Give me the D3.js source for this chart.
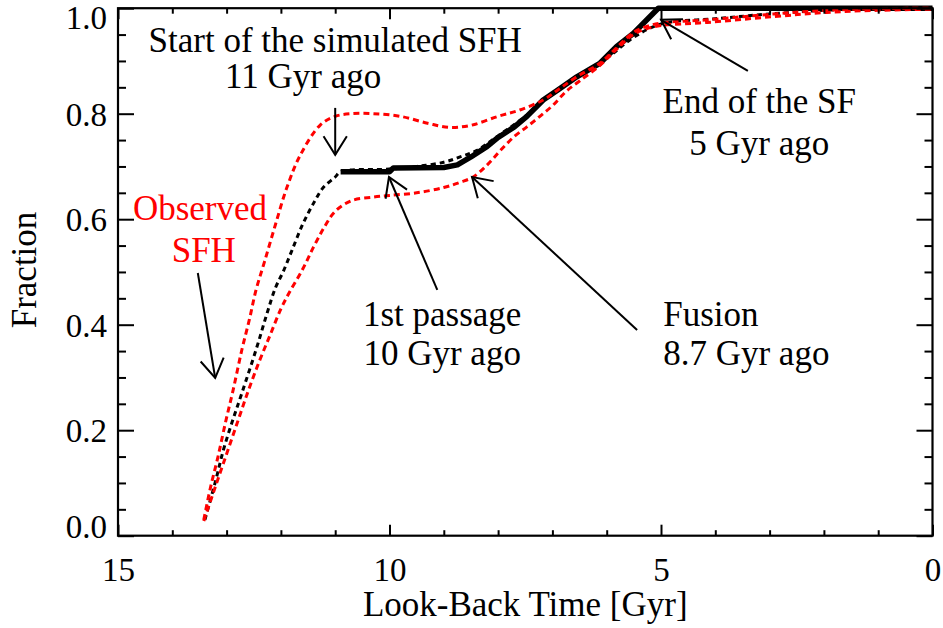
<!DOCTYPE html>
<html><head><meta charset="utf-8">
<script src="https://cdn.jsdelivr.net/npm/d3@7"></script>
<style>body{margin:0;background:#fff}svg{display:block}
svg text{font-family:"Liberation Serif","DejaVu Serif","Times New Roman",serif;}</style>
</head><body><svg id="c" width="943" height="628"></svg>
<script>
// ---- data (look-back time [Gyr], fraction) ----
const xMajor = [15, 10, 5, 0];
const xMinor = [14, 13, 12, 11, 9, 8, 7, 6, 4, 3, 2, 1];
const yMajor = [0.0, 0.2, 0.4, 0.6, 0.8, 1.0];
const yMinor = [0.05, 0.1, 0.15, 0.25, 0.3, 0.35, 0.45, 0.5, 0.55, 0.65, 0.7, 0.75, 0.85, 0.9, 0.95];

// simulated SFH (thick black)
const simulated = [[10.9,0.690],[10.0,0.690],[9.93,0.697],[9.0,0.698],[8.75,0.703],[8.5,0.718],[8.2,0.738],
  [8.0,0.755],[7.7,0.775],[7.47,0.795],[7.17,0.826],[6.9,0.845],[6.55,0.870],[6.12,0.896],[5.82,0.927],
  [5.51,0.952],[5.26,0.978],[5.05,1.0],[3.0,1.0],[0.0,1.0]];
// observed SFH (black dotted median)
const observed = [[13.4,0.03],[13.2,0.105],[13.06,0.162],[12.9,0.215],[12.72,0.27],[12.45,0.355],[12.26,0.42],
  [12.1,0.47],[11.96,0.50],[11.8,0.54],[11.6,0.59],[11.4,0.63],[11.22,0.66],[11.0,0.68],[10.9,0.69],
  [10.0,0.695],[9.5,0.70],[9.0,0.708],[8.7,0.718],[8.4,0.73],[8.0,0.758],[7.5,0.795],[7.0,0.838],
  [6.5,0.872],[6.0,0.905],[5.5,0.945],[5.0,0.970],[4.0,0.980],[3.0,0.989],[2.0,0.996],[1.0,0.999],[0.0,1.0]];
// observed SFH upper envelope (red dotted)
const upper = [[13.42,0.03],[13.3,0.09],[13.16,0.149],[13.02,0.215],[12.88,0.276],[12.72,0.352],[12.58,0.41],
  [12.46,0.465],[12.3,0.52],[12.1,0.59],[11.89,0.66],[11.65,0.72],[11.28,0.778],[11.0,0.795],[10.7,0.80],
  [10.3,0.80],[9.8,0.795],[9.3,0.782],[8.9,0.774],[8.5,0.778],[8.0,0.795],[7.6,0.807],[7.17,0.826],
  [6.9,0.845],[6.55,0.870],[6.12,0.896],[5.82,0.925],[5.51,0.954],[5.3,0.964],[5.0,0.972],[4.15,0.978],
  [2.93,0.989],[1.95,0.996],[1.0,0.999],[0.0,1.0]];
// observed SFH lower envelope (red dotted)
const lower = [[13.42,0.028],[13.2,0.095],[13.0,0.155],[12.8,0.215],[12.6,0.275],[12.4,0.33],[12.2,0.38],
  [12.0,0.43],[11.85,0.46],[11.6,0.505],[11.4,0.547],[11.2,0.585],[11.0,0.615],[10.7,0.635],[10.3,0.642],
  [10.0,0.645],[9.5,0.650],[9.0,0.660],[8.7,0.670],[8.46,0.68],[8.2,0.703],[7.96,0.73],[7.7,0.757],
  [7.47,0.775],[7.23,0.795],[7.0,0.815],[6.75,0.842],[6.5,0.862],[6.12,0.892],[5.82,0.922],[5.51,0.950],
  [5.3,0.960],[5.0,0.967],[4.15,0.973],[2.93,0.984],[1.95,0.992],[1.0,0.996],[0.0,0.998]];

// annotations (positions in data units)
const labels = [
  {text:"Start of the simulated SFH", t:11.0, f:0.917, anchor:"middle", color:"#000"},
  {text:"11 Gyr ago", t:11.59, f:0.849, anchor:"middle", color:"#000"},
  {text:"Observed", t:13.49, f:0.598, anchor:"middle", color:"#ff0000"},
  {text:"SFH", t:13.42, f:0.519, anchor:"middle", color:"#ff0000"},
  {text:"1st passage", t:9.03, f:0.398, anchor:"middle", color:"#000"},
  {text:"10 Gyr ago", t:9.03, f:0.324, anchor:"middle", color:"#000"},
  {text:"Fusion", t:4.96, f:0.398, anchor:"start", color:"#000"},
  {text:"8.7 Gyr ago", t:4.96, f:0.324, anchor:"start", color:"#000"},
  {text:"End of the SF", t:3.19, f:0.801, anchor:"middle", color:"#000"},
  {text:"5 Gyr ago", t:3.19, f:0.722, anchor:"middle", color:"#000"}
];
const arrows = [
  {t0:11.0, f0:0.811, t1:11.0, f1:0.722},
  {t0:13.53, f0:0.498, t1:13.21, f1:0.299},
  {t0:9.12, f0:0.466, t1:10.01, f1:0.680},
  {t0:5.44, f0:0.390, t1:8.48, f1:0.680},
  {t0:3.40, f0:0.881, t1:5.0, f1:0.978}
];

// ---- drawing ----
const L = 118, R = 932.5, T = 8.2, B = 535.7;
const svg = d3.select("#c");
const x = d3.scaleLinear().domain([15, 0]).range([L, R]);
const y = d3.scaleLinear().domain([0, 1]).range([B, T]);

svg.append("defs").append("clipPath").attr("id","clip")
  .append("rect").attr("x", L-2).attr("y", T-4).attr("width", R-L+4).attr("height", B-T+6);

const line = d3.line().x(d => x(d[0])).y(d => y(d[1])).curve(d3.curveCatmullRom.alpha(0.5));
const plot = svg.append("g").attr("clip-path","url(#clip)");

plot.append("path").datum(simulated).attr("d", d3.line().x(d => x(d[0])).y(d => y(d[1])))
  .attr("fill","none").attr("stroke","#000").attr("stroke-width",5.5).attr("stroke-linejoin","round");
plot.append("path").datum(observed).attr("d", line)
  .attr("fill","none").attr("stroke","#000").attr("stroke-width",3).attr("stroke-dasharray","5,4");
[upper, lower].forEach(s => {
  plot.append("path").datum(s).attr("d", line)
    .attr("fill","none").attr("stroke","#ff0000").attr("stroke-width",3).attr("stroke-dasharray","6,4");
});

// axes
function styleAxis(g){ g.select(".domain").remove(); g.selectAll("line").attr("stroke","#000").attr("stroke-width",2); }
const xLenMaj = 11, xLenMin = 5.5, yLenMaj = 16, yLenMin = 8;

svg.append("g").attr("transform",`translate(0,${B})`)
  .call(d3.axisBottom(x).tickValues(xMajor).tickSize(-xLenMaj).tickPadding(0).tickFormat(d3.format("d")))
  .call(styleAxis)
  .call(g => g.selectAll("text").attr("y", 45).attr("dy", 0).attr("font-size", 33).attr("fill","#000").attr("font-family",null));
svg.append("g").attr("transform",`translate(0,${B})`)
  .call(d3.axisBottom(x).tickValues(xMinor).tickSize(-xLenMin).tickFormat("")).call(styleAxis);
svg.append("g").attr("transform",`translate(0,${T})`)
  .call(d3.axisTop(x).tickValues(xMajor).tickSize(-xLenMaj).tickFormat("")).call(styleAxis);
svg.append("g").attr("transform",`translate(0,${T})`)
  .call(d3.axisTop(x).tickValues(xMinor).tickSize(-xLenMin).tickFormat("")).call(styleAxis);

svg.append("g").attr("transform",`translate(${L},0)`)
  .call(d3.axisLeft(y).tickValues(yMajor).tickSize(-yLenMaj).tickPadding(0).tickFormat(d3.format(".1f")))
  .call(styleAxis)
  .call(g => g.selectAll("text").attr("x", -11).attr("dy", 0)
     .attr("y", d => d === 1 ? 20 : (d === 0 ? 2 : 11.5))
     .attr("font-size", 33).attr("fill","#000").attr("font-family",null));
svg.append("g").attr("transform",`translate(${L},0)`)
  .call(d3.axisLeft(y).tickValues(yMinor).tickSize(-yLenMin).tickFormat("")).call(styleAxis);
svg.append("g").attr("transform",`translate(${R},0)`)
  .call(d3.axisRight(y).tickValues(yMajor).tickSize(-yLenMaj).tickFormat("")).call(styleAxis);
svg.append("g").attr("transform",`translate(${R},0)`)
  .call(d3.axisRight(y).tickValues(yMinor).tickSize(-yLenMin).tickFormat("")).call(styleAxis);

svg.append("rect").attr("x",L).attr("y",T).attr("width",R-L).attr("height",B-T)
  .attr("fill","none").attr("stroke","#000").attr("stroke-width",2.2);

// axis titles
svg.append("text").attr("x",(L+R)/2).attr("y",616).attr("text-anchor","middle")
  .attr("font-size",35).text("Look-Back Time [Gyr]");
svg.append("text").attr("transform","translate(36,270) rotate(-90)").attr("text-anchor","middle")
  .attr("font-size",35).text("Fraction");

// annotations
svg.append("g").selectAll("text").data(labels).join("text")
  .attr("x", d => x(d.t)).attr("y", d => y(d.f)).attr("text-anchor", d => d.anchor)
  .attr("fill", d => d.color).attr("font-size", 35).text(d => d.text);

const headLen = 22, headAng = 32 * Math.PI / 180;
const ag = svg.append("g").attr("stroke","#000").attr("stroke-width",2).attr("fill","none");
arrows.forEach(a => {
  const x0 = x(a.t0), y0 = y(a.f0), x1 = x(a.t1), y1 = y(a.f1);
  const ang = Math.atan2(y0 - y1, x0 - x1);
  const w1 = [x1 + headLen*Math.cos(ang+headAng), y1 + headLen*Math.sin(ang+headAng)];
  const w2 = [x1 + headLen*Math.cos(ang-headAng), y1 + headLen*Math.sin(ang-headAng)];
  ag.append("line").attr("x1",x0).attr("y1",y0).attr("x2",x1).attr("y2",y1);
  ag.append("polyline").attr("points", `${w1[0]},${w1[1]} ${x1},${y1} ${w2[0]},${w2[1]}`);
});
</script></body></html>
